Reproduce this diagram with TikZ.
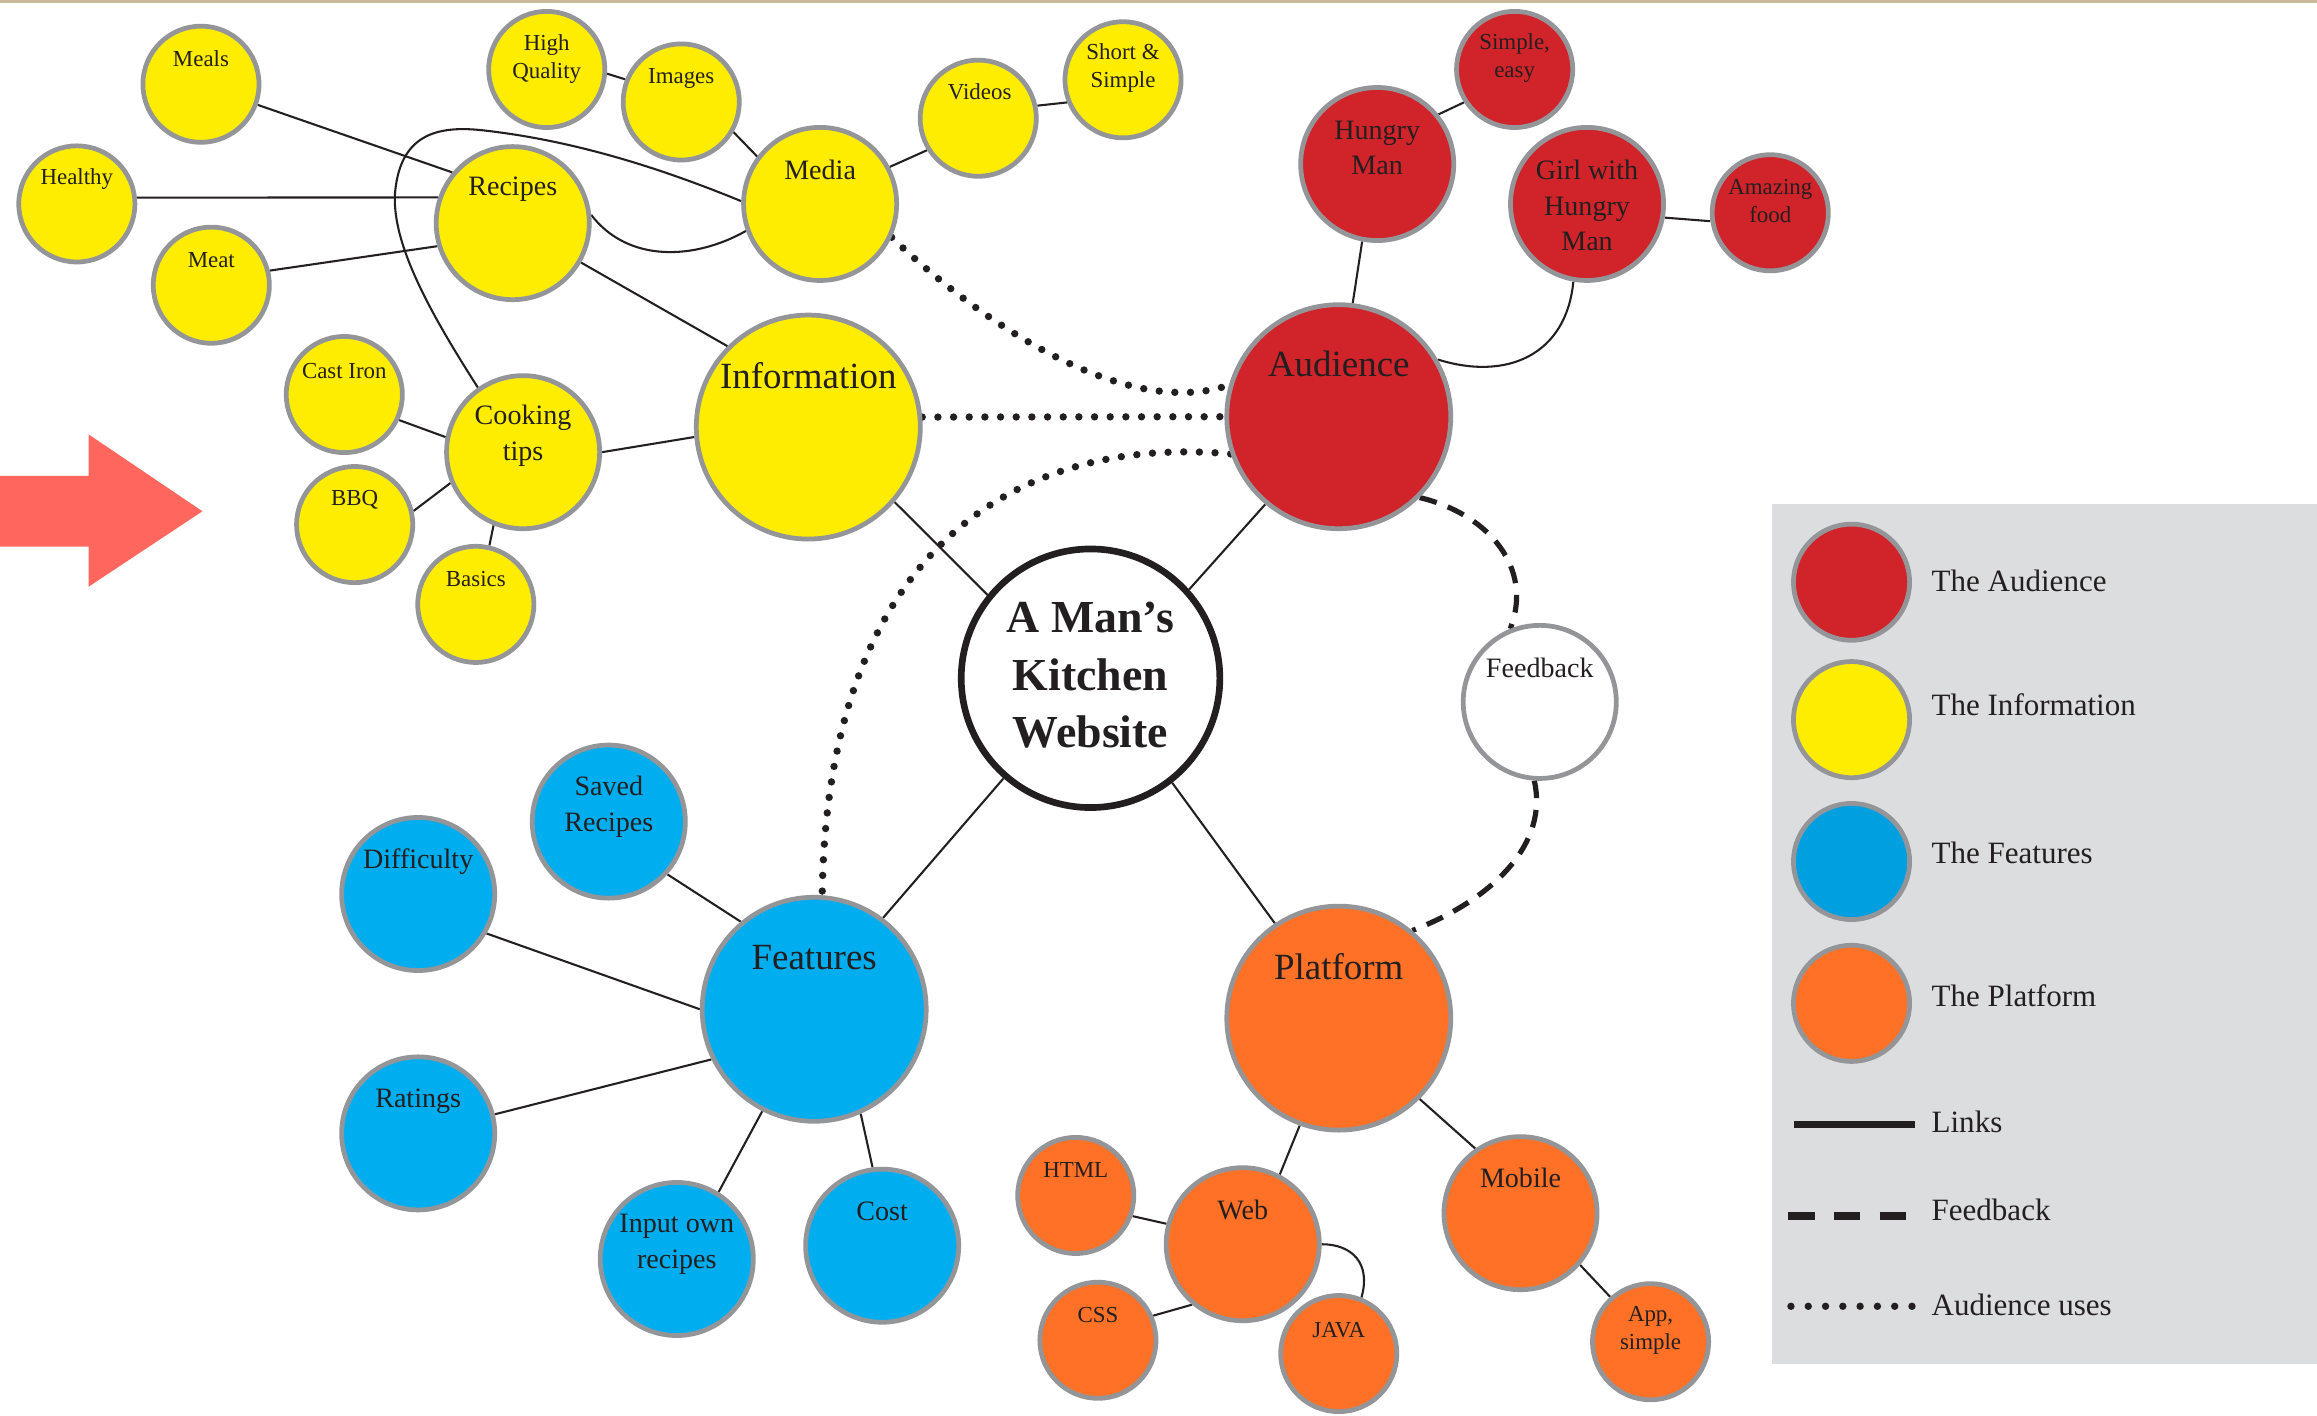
\documentclass[tikz,border=0pt]{standalone}
\usepackage{fontspec}
\setmainfont{Liberation Serif}
\pgfdeclarelayer{bgfill}
\pgfdeclarelayer{edges}
\pgfsetlayers{bgfill,edges,main}
\definecolor{cyel}{RGB}{255,237,0}
\definecolor{cred}{RGB}{209,35,42}
\definecolor{cblue}{RGB}{0,174,239}
\definecolor{clblue}{RGB}{0,159,224}
\definecolor{corange}{RGB}{255,113,38}
\definecolor{bord}{RGB}{147,149,152}
\definecolor{legbg}{RGB}{220,221,222}
\definecolor{ink}{RGB}{35,31,32}
\definecolor{arrowc}{RGB}{255,102,94}
\definecolor{topline}{RGB}{201,186,158}
\begin{document}
\begin{tikzpicture}[x=1pt,y=-1pt,
  bub/.style={circle,draw=bord,line width=3.2pt,inner sep=0pt},
  sm/.style={bub,minimum size=78.6pt},
  md/.style={bub,minimum size=103.6pt},
  lg/.style={bub,minimum size=151.6pt},
  fyel/.style={fill=cyel},
  fred/.style={fill=cred},
  fblu/.style={fill=cblue},
  fora/.style={fill=corange},
  lbl/.style={align=center,inner sep=0pt,text=ink},
  tsm/.style={lbl,font=\fontsize{15.5}{19}\selectfont},
  tmd/.style={lbl,font=\fontsize{19}{24}\selectfont},
  tlg/.style={lbl,font=\fontsize{25}{30}\selectfont},
  hubt/.style={lbl,font=\bfseries\fontsize{31}{39}\selectfont},
  tleg/.style={inner sep=0pt,anchor=west,text=ink,font=\fontsize{21}{25}\selectfont},
  link/.style={draw=ink,line width=1.4pt},
  uses/.style={draw=ink,line width=5pt,line cap=round,dash pattern=on 0pt off 10.6pt},
  fbk/.style={draw=ink,line width=3.5pt,dash pattern=on 12pt off 8pt},
]
\useasboundingbox (0,0) rectangle (1568,958);
\begin{pgfonlayer}{bgfill}
\fill[white] (0,0) rectangle (1568,958);
\end{pgfonlayer}
\draw[topline,line width=2pt] (0,1) -- (1568,1);
% arrow
\fill[arrowc] (0,322) -- (60,322) -- (60,294) -- (137,346) -- (60,397) -- (60,370) -- (0,370) -- cycle;
% legend box
\fill[legbg] (1199,341) rectangle (1568,923);

% yellow
\node[sm,fyel] (meals) at (136,57) {};
\node[sm,fyel] (highq) at (370,47) {};
\node[sm,fyel] (images) at (461,69) {};
\node[sm,fyel] (shortsimple) at (760,54) {};
\node[sm,fyel] (videos) at (662,80) {};
\node[md,fyel] (media) at (555,138) {};
\node[sm,fyel] (healthy) at (52,138) {};
\node[md,fyel] (recipes) at (347,151) {};
\node[sm,fyel] (meat) at (143,193) {};
\node[lg,fyel] (info) at (547,289) {};
\node[sm,fyel] (castiron) at (233,267) {};
\node[md,fyel] (cooking) at (354,306) {};
\node[sm,fyel] (bbq) at (240,355) {};
\node[sm,fyel] (basics) at (322,409) {};
% red
\node[sm,fred] (simpleeasy) at (1025,47) {};
\node[md,fred] (hungry) at (932,111) {};
\node[md,fred] (girl) at (1074,138) {};
\node[sm,fred] (amazing) at (1198,144) {};
\node[lg,fred] (aud) at (906,282) {};
% hub and feedback
\node[circle,draw=ink,line width=4.5pt,fill=white,minimum size=175pt,inner sep=0pt] (hub) at (738,459) {};
\node[md,fill=white] (fb) at (1042,475) {};
% blue
\node[md,fblu] (saved) at (412,556) {};
\node[md,fblu] (diff) at (283,605) {};
\node[lg,fblu] (feat) at (551,683) {};
\node[md,fblu] (ratings) at (283,767) {};
\node[md,fblu] (input) at (458,852) {};
\node[md,fblu] (cost) at (597,843) {};
% orange
\node[lg,fora] (plat) at (906,689) {};
\node[sm,fora] (html) at (728,809) {};
\node[md,fora] (web) at (841,842) {};
\node[md,fora] (mobile) at (1029,821) {};
\node[sm,fora] (css) at (743,907) {};
\node[sm,fora] (java) at (906,916) {};
\node[sm,fora] (app) at (1117,908) {};

% labels
\node[tsm] (meals-t) at (136,40) {Meals};
\node[tsm] (highq-t) at (370,40) {High\\Quality};
\node[tsm] (images-t) at (461,53) {Images};
\node[tsm] (shortsimple-t) at (760,46) {Short \&\\Simple};
\node[tsm] (videos-t) at (663,62) {Videos};
\node[tmd] (media-t) at (555,115) {Media};
\node[tsm] (healthy-t) at (52,121) {Healthy};
\node[tmd] (recipes-t) at (347,128) {Recipes};
\node[tsm] (meat-t) at (143,176) {Meat};
\node[tlg] (info-t) at (547,254) {Information};
\node[tsm] (castiron-t) at (233,251) {Cast Iron};
\node[tmd] (cooking-t) at (354,295) {Cooking\\tips};
\node[tsm] (bbq-t) at (240,338) {BBQ};
\node[tsm] (basics-t) at (322,392) {Basics};
\node[tsm] (simpleeasy-t) at (1025,39) {Simple,\\easy};
\node[tmd] (hungry-t) at (932,100) {Hungry\\Man};
\node[tmd] (girl-t) at (1074,139) {Girl with\\Hungry\\Man};
\node[tsm] (amazing-t) at (1198,136) {Amazing\\food};
\node[tlg] (aud-t) at (906,246) {Audience};
\node[hubt] (hub-t) at (738,457) {A Man's\\Kitchen\\Website};
\node[tmd] (fb-t) at (1042,452) {Feedback};
\node[tmd] (saved-t) at (412,546) {Saved\\Recipes};
\node[tmd] (diff-t) at (283,583) {Difficulty};
\node[tlg] (feat-t) at (551,648) {Features};
\node[tmd] (ratings-t) at (283,745) {Ratings};
\node[tmd] (input-t) at (458,842) {Input own\\recipes};
\node[tmd] (cost-t) at (597,820) {Cost};
\node[tlg] (plat-t) at (906,654) {Platform};
\node[tsm] (html-t) at (728,792) {HTML};
\node[tmd] (web-t) at (841,819) {Web};
\node[tmd] (mobile-t) at (1029,797) {Mobile};
\node[tsm] (css-t) at (743,890) {CSS};
\node[tsm] (java-t) at (906,900) {JAVA};
\node[tsm] (app-t) at (1117,900) {App,\\simple};

% legend
\node[sm,fill=cred] (leg-aud) at (1253,394) {};
\node[sm,fill=cyel] (leg-info) at (1253,487) {};
\node[sm,fill=clblue] (leg-feat) at (1253,583) {};
\node[sm,fill=corange] (leg-plat) at (1253,679) {};
\node[tleg] (leg-aud-t) at (1307,393) {The Audience};
\node[tleg] (leg-info-t) at (1307,477) {The Information};
\node[tleg] (leg-feat-t) at (1307,577) {The Features};
\node[tleg] (leg-plat-t) at (1307,674) {The Platform};
\node[tleg] (leg-links-t) at (1307,759) {Links};
\node[tleg] (leg-fb-t) at (1307,819) {Feedback};
\node[tleg] (leg-uses-t) at (1307,883) {Audience uses};
\coordinate (la1) at (1214,761); \coordinate (la2) at (1296,761);
\coordinate (lb1) at (1210,823); \coordinate (lb2) at (1291,823);
\coordinate (lc1) at (1212,884); \coordinate (lc2) at (1294,884);
\draw[draw=ink,line width=4.5pt] (la1) -- (la2);
\draw[draw=ink,line width=5pt,dash pattern=on 18pt off 13pt] (lb1) -- (lb2);
\draw[draw=ink,line width=5pt,line cap=round,dash pattern=on 0pt off 11.7pt] (lc1) -- (lc2);

\begin{pgfonlayer}{edges}
\draw[link] (meals.-20) -- (recipes.140);
\draw[link] (healthy.6) -- (recipes.161);
\draw[link] (meat.14) -- (recipes.-163);
\draw[link] (recipes.-30) -- (info.135);
\draw[link] (highq.-4) -- (images.158);
\draw[link] (images.-30) -- (media.143);
\draw[link] (media.28) -- (videos.-148);
\draw[link] (videos.12) -- (shortsimple.-158);
\draw[link] (recipes.6) .. controls (425,178) and (470,176) .. (media.-160);
\draw[link] (cooking.125) .. controls (290,210) and (262,160) .. (268,125) .. controls (273,92) and (295,85) .. (325,88) .. controls (390,95) and (450,115) .. (media.178);
\draw[link] (castiron.-25) -- (cooking.169);
\draw[link] (bbq.13) -- (cooking.-157);
\draw[link] (basics.77) -- (cooking.-112);
\draw[link] (cooking.0) -- (info.-175);
\draw[link] (info.-41) -- (hub.141);
\draw[link] (aud.-130) -- (hub.42);
\draw[link] (hungry.-101) -- (aud.83);
\draw[link] (hungry.39) -- (simpleeasy.-147);
\draw[link] (girl.-10) -- (amazing.-172);
\draw[link] (girl.-100) .. controls (1060,240) and (1020,258) .. (aud.30);
\draw[link] (hub.-131) -- (feat.53);
\draw[link] (hub.-52) -- (plat.124);
\draw[link] (saved.-42) -- (feat.130);
\draw[link] (diff.-30) -- (feat.180);
\draw[link] (ratings.14) -- (feat.-154);
\draw[link] (input.58) -- (feat.-117);
\draw[link] (cost.97) -- (feat.-66);
\draw[link] (plat.-110) -- (web.62);
\draw[link] (plat.-45) -- (mobile.125);
\draw[link] (html.-20) -- (web.165);
\draw[link] (css.24) -- (web.-130);
\draw[link] (web.0) .. controls (915,842) and (928,855) .. (java.68);
\draw[link] (mobile.-41) -- (app.132);
\draw[uses] (media.-25) .. controls (660,215) and (760,285) .. (aud.164);
\draw[uses] (info.5) -- (aud.180);
\draw[uses] (aud.-161) .. controls (700,295) and (560,360) .. (feat.86);
\draw[fbk] (aud.-45) .. controls (1008,348) and (1038,385) .. (fb.112);
\draw[fbk] (fb.-94) .. controls (1048,570) and (1012,608) .. (plat.50);
\end{pgfonlayer}
\end{tikzpicture}
\end{document}
